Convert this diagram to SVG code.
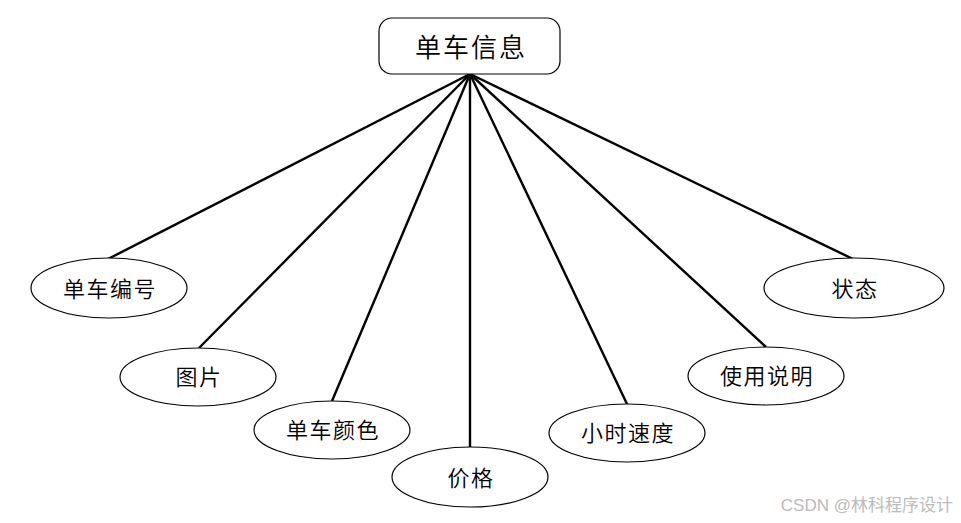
<svg xmlns="http://www.w3.org/2000/svg" width="961" height="523" viewBox="0 0 961 523">
<style>
.n{fill:#fff;stroke:#000;stroke-width:1.2}
.t{font-family:"Noto Sans CJK SC","Noto Sans",sans-serif;font-size:22px;letter-spacing:1.5px;font-weight:350;fill:#000;text-anchor:middle;dominant-baseline:central}
.c{stroke:#000;stroke-width:2.4;fill:none}
</style>
<rect width="961" height="523" fill="#fff"/>
<g id="connectors">
<line class="c" x1="470" y1="74" x2="108" y2="259"/>
<line class="c" x1="470" y1="74" x2="199" y2="348"/>
<line class="c" x1="470" y1="74" x2="332" y2="401"/>
<line class="c" x1="470" y1="74" x2="470" y2="448"/>
<line class="c" x1="470" y1="74" x2="627" y2="404"/>
<line class="c" x1="470" y1="74" x2="766" y2="347"/>
<line class="c" x1="470" y1="74" x2="853" y2="259"/>
</g>
<g id="root">
<rect class="n" x="379" y="18" width="181" height="56" rx="13"/>
<text class="t" x="471" y="45" style="font-size:26px;letter-spacing:2px">单车信息</text>
</g>
<g id="n1"><ellipse class="n" cx="109" cy="288" rx="78" ry="30"/><text class="t" x="110" y="287">单车编号</text></g>
<g id="n2"><ellipse class="n" cx="198" cy="377" rx="78" ry="29"/><text class="t" x="199" y="375">图片</text></g>
<g id="n3"><ellipse class="n" cx="332" cy="430" rx="78" ry="29"/><text class="t" x="333" y="428">单车颜色</text></g>
<g id="n4"><ellipse class="n" cx="470" cy="477" rx="78" ry="30"/><text class="t" x="471" y="476">价格</text></g>
<g id="n5"><ellipse class="n" cx="627" cy="433" rx="78" ry="29"/><text class="t" x="628" y="431">小时速度</text></g>
<g id="n6"><ellipse class="n" cx="766" cy="376" rx="78" ry="29"/><text class="t" x="767" y="374">使用说明</text></g>
<g id="n7"><ellipse class="n" cx="854" cy="288" rx="90" ry="30"/><text class="t" x="855" y="287">状态</text></g>
<text x="953" y="505" style="font-family:'Liberation Sans','Noto Sans CJK SC',sans-serif;font-size:17px;fill:#bbb;text-anchor:end;dominant-baseline:central">CSDN @林科程序设计</text>
</svg>
